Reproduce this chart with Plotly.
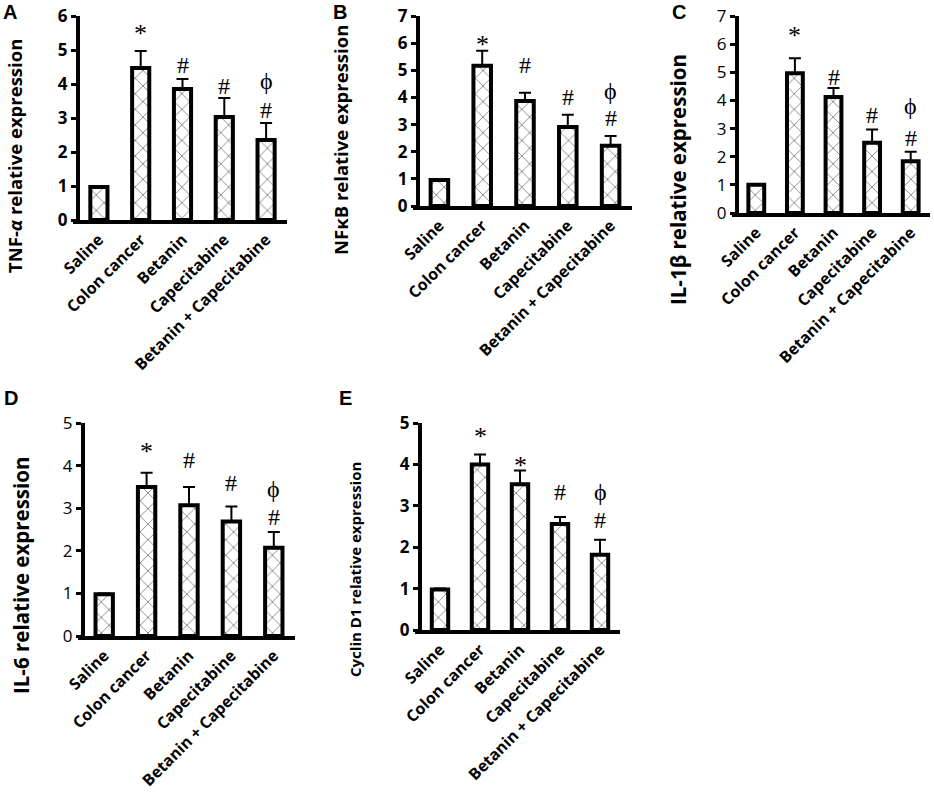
import plotly.graph_objects as go

# groups on the x axis (same for every panel)
groups = ["Saline", "Colon cancer", "Betanin", "Capecitabine", "Betanin + Capecitabine"]

# mean relative expression and upper error (SD)
tnf_mean = [0.97, 4.47, 3.85, 3.03, 2.35]
tnf_err = [0.03, 0.50, 0.30, 0.56, 0.50]
nfkb_mean = [0.96, 5.17, 3.87, 2.91, 2.22]
nfkb_err = [0.03, 0.55, 0.30, 0.45, 0.36]
il1b_mean = [1.00, 4.97, 4.12, 2.50, 1.84]
il1b_err = [0.03, 0.53, 0.32, 0.47, 0.34]
il6_mean = [0.98, 3.50, 3.07, 2.69, 2.07]
il6_err = [0.02, 0.33, 0.43, 0.35, 0.37]
ccnd1_mean = [0.98, 4.00, 3.52, 2.56, 1.82]
ccnd1_err = [0.02, 0.24, 0.33, 0.17, 0.36]

# significance marks and the value level they sit at
tnf_marks = ["", "*", "#", "#", "#"]
tnf_mark_y = [0, 5.62, 4.55, 3.94, 3.24]
nfkb_marks = ["", "*", "#", "#", "#"]
nfkb_mark_y = [0, 6.15, 5.2, 4.02, 3.24]
il1b_marks = ["", "*", "#", "#", "#"]
il1b_mark_y = [0, 6.5, 4.83, 3.49, 2.66]
il6_marks = ["", "*", "#", "#", "#"]
il6_mark_y = [0, 4.45, 4.13, 3.59, 2.79]
ccnd1_marks = ["", "*", "*", "#", "#"]
ccnd1_mark_y = [0, 4.8, 4.1, 3.33, 2.66]
phi_y = [4.1, 4.25, 3.8, 3.45, 3.33]

W, H = 934, 796


def fx(p):
    return p / W


def fy(p):
    return 1 - p / H


# panel layout in page pixels: yaxis x, x end, y top, y zero, titles and letters
panels = [
    dict(letter="A", mean=tnf_mean, err=tnf_err, marks=tnf_marks, mark_y=tnf_mark_y, ymax=6,
         ax=78, x1=287, top=16, zero=220, bold=True,
         title="TNF-<i>α</i> relative expression", tsize=18.5, tx=15, ty=156, lx=10, ly=12),
    dict(letter="B", mean=nfkb_mean, err=nfkb_err, marks=nfkb_marks, mark_y=nfkb_mark_y, ymax=7,
         ax=418, x1=632, top=16, zero=206, bold=True,
         title="NFκB relative expression", tsize=18.5, tx=340, ty=140, lx=340, ly=12),
    dict(letter="C", mean=il1b_mean, err=il1b_err, marks=il1b_marks, mark_y=il1b_mark_y, ymax=7,
         ax=737, x1=930, top=16, zero=213, bold=False,
         title="IL-1β relative expression", tsize=20.5, tx=678, ty=180, lx=679, ly=12),
    dict(letter="D", mean=il6_mean, err=il6_err, marks=il6_marks, mark_y=il6_mark_y, ymax=5,
         ax=83, x1=295, top=423, zero=636, bold=False,
         title="IL-6 relative expression", tsize=20.5, tx=21, ty=576, lx=11, ly=398),
    dict(letter="E", mean=ccnd1_mean, err=ccnd1_err, marks=ccnd1_marks, mark_y=ccnd1_mark_y, ymax=5,
         ax=420, x1=620, top=423, zero=630, bold=True,
         title="Cyclin D1 relative expression", tsize=15, tx=355, ty=570, lx=345, ly=398),
]

fig = go.Figure()
annotations = []
layout = {}

for i, p in enumerate(panels):
    n = "" if i == 0 else str(i + 1)
    xa, ya = "x" + n, "y" + n
    step = (p["x1"] - p["ax"]) / len(groups)
    left = -0.5 - 5 / step

    fig.add_trace(go.Bar(
        x=groups, y=p["mean"], xaxis=xa, yaxis=ya, width=0.41,
        marker=dict(color="white", line=dict(color="black", width=4),
                    pattern=dict(shape="x", fgcolor="black", bgcolor="white", size=11, solidity=0.15)),
        error_y=dict(type="data", array=p["err"], arrayminus=[0] * 5, symmetric=False,
                     color="black", thickness=2, width=6),
        showlegend=False,
    ))

    tfont = dict(family="Open Sans", size=17, color="black", weight="bold" if p["bold"] else "normal")
    layout["xaxis" + n] = dict(
        domain=[fx(p["ax"] - 5), fx(p["x1"])], anchor=ya, range=[left, 4.5],
        showline=True, linecolor="black", linewidth=4, ticks="", showgrid=False, automargin=False,
        tickangle=-45, tickfont=dict(family="Open Sans", size=16, color="black", weight="bold"),
        fixedrange=True,
    )
    layout["yaxis" + n] = dict(
        domain=[fy(p["zero"]), fy(p["top"])], anchor="free", position=fx(p["ax"]),
        range=[0, p["ymax"]], dtick=1, showline=True, linecolor="black", linewidth=4,
        ticks="outside", ticklen=5, tickwidth=3, tickcolor="black", showgrid=False, automargin=False,
        zeroline=False, tickfont=tfont, fixedrange=True,
    )

    # significance marks
    for g, m, yv in zip(groups, p["marks"], p["mark_y"]):
        if m:
            annotations.append(dict(
                x=g, y=yv, xref=xa, yref=ya, text=m, showarrow=False,
                font=dict(family="Liberation Serif", size=24 if m == "#" else 26, color="black"),
                yanchor="middle", yshift=-5 if m == "*" else 0,
            ))
    annotations.append(dict(
        x=groups[-1], y=phi_y[i], xref=xa, yref=ya, text="ϕ", showarrow=False,
        font=dict(family="Liberation Serif", size=24, color="black"), yanchor="middle",
    ))

    # y axis title and panel letter
    annotations.append(dict(
        x=fx(p["tx"]), y=fy(p["ty"]), xref="paper", yref="paper", text="<b>" + p["title"] + "</b>",
        textangle=-90, showarrow=False, xanchor="center", yanchor="middle",
        font=dict(family="Open Sans", size=p["tsize"], color="black"),
    ))
    annotations.append(dict(
        x=fx(p["lx"]), y=fy(p["ly"]), xref="paper", yref="paper", text="<b>" + p["letter"] + "</b>",
        showarrow=False, xanchor="center", yanchor="middle",
        font=dict(family="Liberation Sans", size=20, color="black"),
    ))

fig.update_layout(
    width=W, height=H, margin=dict(l=0, r=0, t=0, b=0, pad=0),
    paper_bgcolor="white", plot_bgcolor="white",
    annotations=annotations, **layout,
)

# drop the default page margin so the figure sits at the window corner
fig.write_html("out.html", config={"displayModeBar": False},
               post_script="document.body.style.margin='0px';")
